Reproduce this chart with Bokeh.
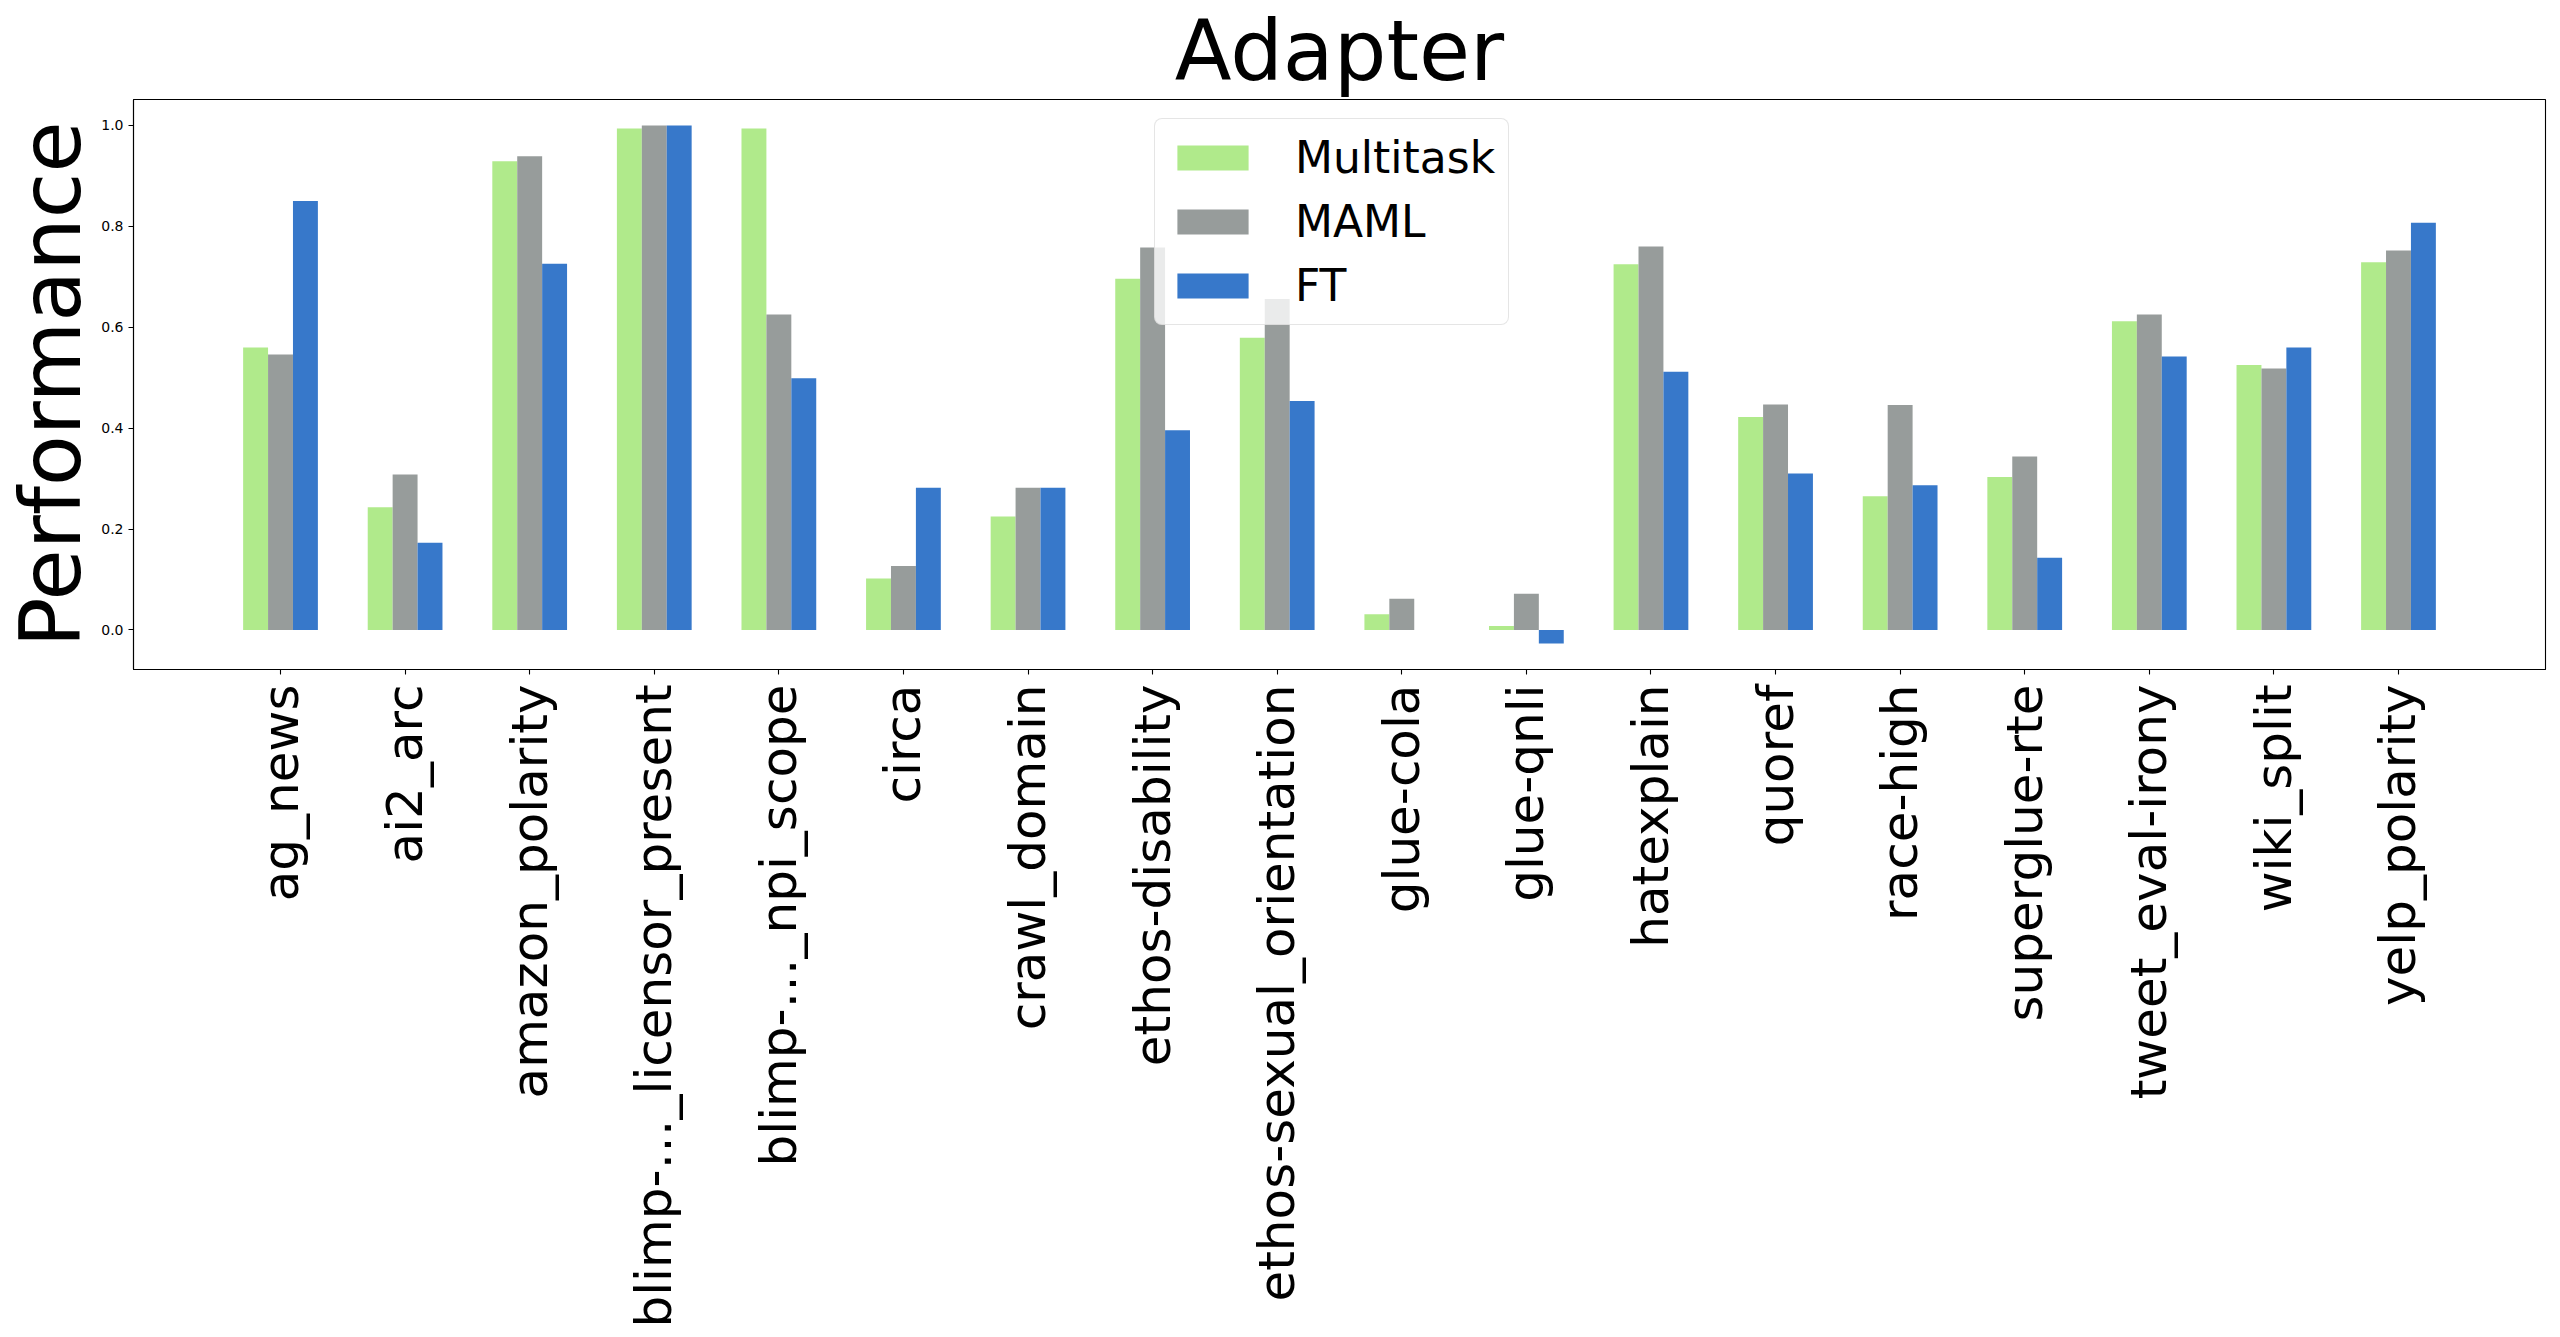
import math
from bokeh.plotting import figure
from bokeh.models import ColumnDataSource, FixedTicker, Range1d, NumeralTickFormatter
from bokeh.transform import dodge
from bokeh.embed import file_html
from bokeh.resources import INLINE

categories = ["ag_news", "ai2_arc", "amazon_polarity", "blimp-…_licensor_present",
              "blimp-…_npi_scope", "circa", "crawl_domain", "ethos-disability",
              "ethos-sexual_orientation", "glue-cola", "glue-qnli", "hatexplain",
              "quoref", "race-high", "superglue-rte", "tweet_eval-irony",
              "wiki_split", "yelp_polarity"]
multitask = [0.560, 0.243, 0.929, 0.994, 0.994, 0.102, 0.225, 0.696, 0.579,
             0.031, 0.008, 0.725, 0.422, 0.265, 0.303, 0.612, 0.525, 0.729]
maml = [0.546, 0.308, 0.939, 1.000, 0.625, 0.127, 0.282, 0.758, 0.656,
        0.062, 0.072, 0.760, 0.447, 0.446, 0.344, 0.625, 0.518, 0.752]
ft = [0.850, 0.173, 0.726, 1.000, 0.499, 0.282, 0.282, 0.396, 0.454,
      0.000, -0.027, 0.512, 0.310, 0.287, 0.143, 0.542, 0.560, 0.807]
series_names = ["Multitask", "MAML", "FT"]
colors = ["#B0EA8B", "#979C9B", "#3778CA"]
title_text = "Adapter"
y_label = "Performance"
y_ticks = [0.0, 0.2, 0.4, 0.6, 0.8, 1.0]

FONT = "DejaVu Sans"
n = len(categories)
bar_w = 0.2
offsets = [-bar_w, 0.0, bar_w]

xmin, xmax = -1.5 * bar_w, (n - 1) + 1.5 * bar_w
xpad = 0.05 * (xmax - xmin)
allv = multitask + maml + ft
ylo, yhi = min(min(allv), 0.0), max(max(allv), 0.0)
ypad = 0.05 * (yhi - ylo)

src = ColumnDataSource(dict(x=list(range(n)), Multitask=multitask, MAML=maml, FT=ft))

W, H = 2552, 1330
p = figure(width=W, height=H, output_backend="svg", toolbar_location=None,
           x_range=Range1d(xmin - xpad, xmax + xpad),
           y_range=Range1d(ylo - ypad, yhi + ypad),
           min_border_left=133, min_border_right=W - 2545,
           min_border_top=96, min_border_bottom=H - 671)

for name, col, off in zip(series_names, colors, offsets):
    p.vbar(x=dodge("x", off), top=name, bottom=0, width=bar_w, source=src,
           fill_color=col, line_color=None, legend_label=name)

p.title.text = title_text
p.title.text_font = FONT
p.title.text_font_size = "83px"
p.title.text_font_style = "normal"
p.title.text_color = "black"
p.title.align = "center"
p.title.standoff = 0
if "text_line_height" in p.title.properties():
    p.title.text_line_height = 0.9

p.xgrid.visible = False
p.ygrid.visible = False
p.outline_line_color = "black"
p.outline_line_width = 1.1
p.background_fill_color = "white"

for ax in (p.xaxis[0], p.yaxis[0]):
    ax.axis_line_color = "black"
    ax.axis_line_width = 1.1
    ax.major_tick_line_color = "black"
    ax.major_tick_line_width = 1.1
    ax.major_tick_out = 5
    ax.major_tick_in = 0
    ax.minor_tick_out = 0
    ax.minor_tick_in = 0
    ax.major_label_text_font = FONT
    ax.major_label_text_color = "black"

p.xaxis.ticker = FixedTicker(ticks=list(range(n)))
p.xaxis.major_label_overrides = {i: c for i, c in enumerate(categories)}
p.xaxis.major_label_orientation = math.pi / 2
p.xaxis.major_label_text_font_size = "50px"
p.xaxis.major_label_standoff = 10

p.yaxis.ticker = FixedTicker(ticks=y_ticks)
p.yaxis.formatter = NumeralTickFormatter(format="0.0")
p.yaxis.major_label_text_font_size = "14px"
p.yaxis.major_label_standoff = 5
p.yaxis.axis_label = y_label
p.yaxis.axis_label_text_font = FONT
p.yaxis.axis_label_text_font_size = "83px"
p.yaxis.axis_label_text_font_style = "normal"
p.yaxis.axis_label_text_color = "black"
p.yaxis.axis_label_standoff = -2

lg = p.legend[0]
lg.location = (1021, 344)
lg.glyph_width = 89
lg.glyph_height = 31
lg.label_text_font = FONT
lg.label_text_font_size = "44px"
lg.label_text_color = "black"
lg.label_standoff = 38
lg.padding = 13
lg.spacing = 13
lg.margin = 0
lg.border_line_color = "#cccccc"
lg.border_line_width = 1.5
lg.background_fill_alpha = 0.8
if "border_radius" in lg.properties():
    lg.border_radius = 8

open("out.html", "w").write(file_html(p, INLINE))
